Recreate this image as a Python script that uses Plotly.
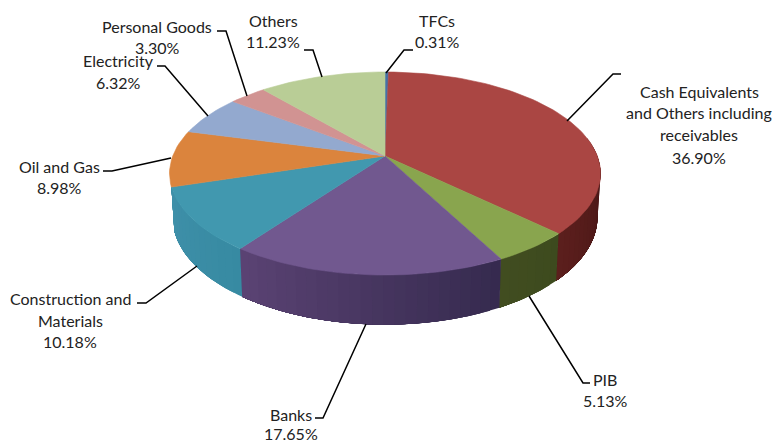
import math
import plotly.graph_objects as go

# Portfolio allocation, in drawing order clockwise from twelve o'clock
categories = ["TFCs", "Cash Equivalents and Others including receivables", "PIB", "Banks",
              "Construction and Materials", "Oil and Gas", "Electricity", "Personal Goods", "Others"]
shares = [0.31, 36.90, 5.13, 17.65, 10.18, 8.98, 6.32, 3.30, 11.23]
top_colors = ["#4572A7", "#AA4643", "#89A54E", "#71588F", "#4198AF",
              "#DB843D", "#93A9CF", "#D19392", "#B9CD96"]
# Side wall shading per slice (colour at the clockwise start, colour at the end)
wall_colors = {
    1: ("#3f1212", "#5c1f1d"),
    2: ("#3d4a1e", "#414d20"),
    3: ("#352a4e", "#5b4374"),
    4: ("#378aa2", "#3f90a9"),
}
# Label lines with their centres, and the leader line of each slice
label_lines = [
    ["TFCs", "0.31%"],
    ["Cash Equivalents", "and Others including", "receivables", "36.90%"],
    ["PIB", "5.13%"],
    ["Banks", "17.65%"],
    ["Construction and", "Materials", "10.18%"],
    ["Oil and Gas", "8.98%"],
    ["Electricity", "6.32%"],
    ["Personal Goods", "3.30%"],
    ["Others", "11.23%"],
]
label_x = [437, 699, 605, 291, 70, 59, 118, 157, 273]
label_y = [[20, 41], [91, 112, 134, 157], [379, 400], [414, 433], [298, 320, 341],
           [166, 187], [60, 82], [26, 47], [20, 41]]
leader_x = [[386, 404, 413], [567, 613, 621], [529, 583, 590], [366, 323, 315],
            [197, 146, 137], [171, 112, 103], [208, 165, 157], [247, 226, 217], [322, 313, 304]]
leader_y = [[73, 50, 50], [121, 74, 74], [296, 383, 383], [324, 418, 418],
            [266, 303, 303], [158, 171, 171], [116, 66, 66], [96, 31, 31], [77, 50, 50]]

# Perspective projection of the pie disc onto the page
CX, CY = 385.0, 156.0
RX, RY = 212.3, 98.5
K = 0.1725
BOTTOM_DROP = 42.5
BOTTOM_SX, BOTTOM_SY = 0.986, 1.06


def rim(pct, bottom=False):
    a = math.radians(pct * 3.6)
    u, v = math.sin(a), -math.cos(a)
    d = 1 - K * v
    if bottom:
        return CX + BOTTOM_SX * RX * u / d, CY + BOTTOM_DROP + BOTTOM_SY * RY * v / d
    return CX + RX * u / d, CY + RY * v / d


def blend(c1, c2, f):
    a = [int(c1[i:i + 2], 16) for i in (1, 3, 5)]
    b = [int(c2[i:i + 2], 16) for i in (1, 3, 5)]
    return "rgb(%d,%d,%d)" % tuple(round(p + (q - p) * f) for p, q in zip(a, b))


def patch(fig, xs, ys, color, edge=0.6):
    fig.add_trace(go.Scatter(x=xs, y=ys, mode="lines", fill="toself", fillcolor=color,
                             line=dict(color=color, width=edge), hoverinfo="skip", showlegend=False))


fig = go.Figure()

edges = [0.0]
for s in shares:
    edges.append(edges[-1] + s)

# Side walls: strips laid one over the next so the shading steps along the rim
for i, (c_start, c_end) in wall_colors.items():
    lo, hi = edges[i], edges[i + 1]
    if i == 1:
        lo = max(lo, 22.0)
    n = max(4, int((hi - lo) / 0.7))
    for j in range(n):
        p0 = lo + (hi - lo) * j / n
        steps = [p0 + (hi - p0) * k / 24 for k in range(25)]
        top = [rim(p) for p in steps]
        bot = [rim(p, True) for p in reversed(steps)]
        pts = top + bot + top[:1]
        patch(fig, [p[0] for p in pts], [p[1] for p in pts], blend(c_start, c_end, (j + 0.5) / n), edge=0)

# Top faces
for i, s in enumerate(shares):
    n = max(4, int(s * 2))
    arc = [rim(edges[i] + s * k / n) for k in range(n + 1)]
    pts = [(CX, CY)] + arc + [(CX, CY)]
    patch(fig, [p[0] for p in pts], [p[1] for p in pts], top_colors[i])

# Leader lines
for xs, ys in zip(leader_x, leader_y):
    fig.add_trace(go.Scatter(x=xs, y=ys, mode="lines", line=dict(color="#000000", width=1.5),
                             hoverinfo="skip", showlegend=False))

# Slice labels, one annotation per line of text
for lines, x, ys in zip(label_lines, label_x, label_y):
    for text, y in zip(lines, ys):
        fig.add_annotation(x=x, y=y, text=text, showarrow=False, align="center",
                           xanchor="center", yanchor="middle",
                           font=dict(family="Lato", size=16, color="#222222"))

fig.update_xaxes(range=[0, 775], visible=False, fixedrange=True)
fig.update_yaxes(range=[440, 0], visible=False, fixedrange=True)
fig.update_layout(width=775, height=440, margin=dict(l=0, r=0, t=0, b=0),
                  paper_bgcolor="white", plot_bgcolor="white", showlegend=False)
fig.write_html("out.html", config={"displayModeBar": False})
